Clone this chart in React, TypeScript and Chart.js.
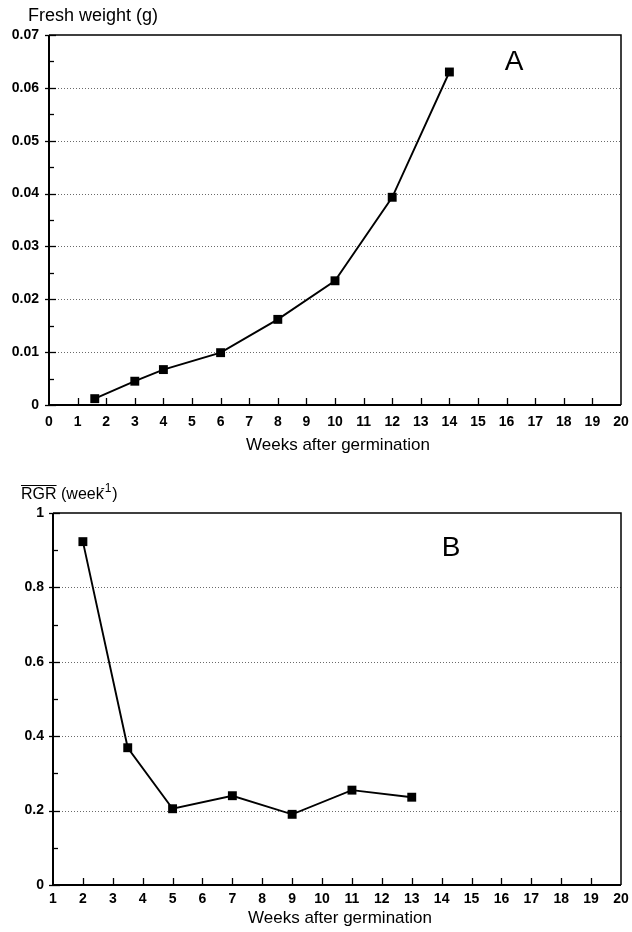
import React, { useEffect, useRef } from "react";
import { Chart, registerables } from "chart.js";

Chart.register(...registerables);

// ---------- Data ----------
const weeksA = [1.6, 3, 4, 6, 8, 10, 12, 14];
const freshWeight = [0.0012, 0.0045, 0.0067, 0.0099, 0.0162, 0.0235, 0.0393, 0.063];

const weeksB = [2, 3.5, 5, 7, 9, 11, 13];
const rgr = [0.923, 0.369, 0.205, 0.24, 0.19, 0.255, 0.236];

const xTickLabelsA = ["0", "1", "2", "3", "4", "5", "6", "7", "8", "9", "10", "11", "12", "13", "14", "15", "16", "17", "18", "19", "20"];
const xTickLabelsB = ["1", "2", "3", "4", "5", "6", "7", "8", "9", "10", "11", "12", "13", "14", "15", "16", "17", "18", "19", "20"];
const yTickValuesA = [0, 0.01, 0.02, 0.03, 0.04, 0.05, 0.06, 0.07];
const yTickLabelsA = ["0", "0.01", "0.02", "0.03", "0.04", "0.05", "0.06", "0.07"];
const yTickValuesB = [0, 0.2, 0.4, 0.6, 0.8, 1];
const yTickLabelsB = ["0", "0.2", "0.4", "0.6", "0.8", "1"];

const FONT = '"Liberation Sans", Arial, Helvetica, sans-serif';

function labelFor(values: number[], labels: string[], v: number): string {
  for (let i = 0; i < values.length; i++) {
    if (Math.abs(values[i] - v) < 1e-9) return labels[i];
  }
  return "";
}

type Panel = {
  xs: number[];
  ys: number[];
  xMin: number;
  xMax: number;
  xLabels: string[];
  yMax: number;
  yStep: number;
  yValues: number[];
  yLabels: string[];
  yWidth: number;
  xHeight: number;
  padTop: number;
  yPad: number;
  xPad: number;
  letter: string;
  letterX: number;
  letterY: number;
  titleY: number;
  drawYTitle: (ctx: CanvasRenderingContext2D) => void;
};

function framePlugin(p: Panel) {
  return {
    id: "frame" + p.letter,
    beforeDatasetsDraw(chart: any) {
      const { ctx, chartArea, scales } = chart;
      const { left, right } = chartArea;
      const y = scales.y;
      ctx.save();
      ctx.strokeStyle = "#6a6a6a";
      ctx.lineWidth = 1;
      ctx.setLineDash([1, 2]);
      for (const v of p.yValues) {
        if (v <= 0 || v >= p.yMax) continue;
        const py = Math.round(y.getPixelForValue(v)) + 0.5;
        ctx.beginPath();
        ctx.moveTo(left, py);
        ctx.lineTo(right, py);
        ctx.stroke();
      }
      ctx.restore();
    },
    afterDraw(chart: any) {
      const { ctx, chartArea, scales } = chart;
      const { left, right, top, bottom } = chartArea;
      const x = scales.x;
      const y = scales.y;
      ctx.save();
      ctx.setLineDash([]);
      ctx.strokeStyle = "#000";
      // frame
      ctx.lineWidth = 1.5;
      ctx.beginPath();
      ctx.moveTo(left, top);
      ctx.lineTo(right, top);
      ctx.lineTo(right, bottom);
      ctx.stroke();
      ctx.lineWidth = 2;
      ctx.beginPath();
      ctx.moveTo(left, top);
      ctx.lineTo(left, bottom);
      ctx.lineTo(right, bottom);
      ctx.stroke();
      // x inner tick marks
      ctx.lineWidth = 1.3;
      for (const t of x.ticks) {
        if (t.value <= p.xMin || t.value >= p.xMax) continue;
        const px = Math.round(x.getPixelForValue(t.value)) + 0.5;
        ctx.beginPath();
        ctx.moveTo(px, bottom);
        ctx.lineTo(px, bottom - 7);
        ctx.stroke();
      }
      // y tick marks
      for (const t of y.ticks) {
        const py = Math.round(y.getPixelForValue(t.value)) + 0.5;
        const major = labelFor(p.yValues, p.yLabels, t.value) !== "";
        ctx.beginPath();
        ctx.moveTo(major ? left - 4 : left, py);
        ctx.lineTo(major ? left + 7 : left + 5, py);
        ctx.stroke();
      }
      // texts
      ctx.fillStyle = "#000";
      ctx.textAlign = "center";
      ctx.textBaseline = "alphabetic";
      ctx.font = `17px ${FONT}`;
      ctx.fillText("Weeks after germination", (left + right) / 2 + 3, p.titleY);
      ctx.font = `28px ${FONT}`;
      ctx.fillText(p.letter, p.letterX, p.letterY);
      p.drawYTitle(ctx);
      ctx.restore();
    },
  };
}

function buildConfig(p: Panel): any {
  return {
    type: "line",
    data: {
      datasets: [
        {
          data: p.xs.map((xv, i) => ({ x: xv, y: p.ys[i] })),
          borderColor: "#000",
          backgroundColor: "#000",
          borderWidth: 1.9,
          pointStyle: "rect",
          pointRadius: 6.3,
          pointHoverRadius: 6.3,
          pointBorderWidth: 0,
          tension: 0,
          clip: false,
        },
      ],
    },
    options: {
      responsive: false,
      animation: false,
      events: [],
      layout: { padding: { top: p.padTop, right: 11, left: 0, bottom: 0 } },
      plugins: {
        legend: { display: false },
        tooltip: { enabled: false },
        title: { display: false },
      },
      scales: {
        x: {
          type: "linear",
          min: p.xMin,
          max: p.xMax,
          afterFit: (s: any) => {
            s.height = p.xHeight;
            s.paddingLeft = 0;
            s.paddingRight = 0;
          },
          grid: { display: false, drawTicks: false, tickLength: 0 },
          border: { display: false },
          ticks: {
            stepSize: 1,
            autoSkip: false,
            maxRotation: 0,
            color: "#000",
            padding: p.xPad,
            font: { family: FONT, size: 14, weight: "bold" },
            callback: (v: number) => p.xLabels[Math.round(v - p.xMin)] ?? "",
          },
        },
        y: {
          type: "linear",
          min: 0,
          max: p.yMax,
          afterFit: (s: any) => {
            s.width = p.yWidth;
            s.paddingTop = 0;
            s.paddingBottom = 0;
          },
          grid: { display: false, drawTicks: false, tickLength: 0 },
          border: { display: false },
          ticks: {
            stepSize: p.yStep,
            autoSkip: false,
            color: "#000",
            padding: p.yPad,
            font: { family: FONT, size: 14, weight: "bold" },
            callback: (v: number) => labelFor(p.yValues, p.yLabels, v),
          },
        },
      },
    },
    plugins: [framePlugin(p)],
  };
}

const panelA: Panel = {
  xs: weeksA,
  ys: freshWeight,
  xMin: 0,
  xMax: 20,
  xLabels: xTickLabelsA,
  yMax: 0.07,
  yStep: 0.005,
  yValues: yTickValuesA,
  yLabels: yTickLabelsA,
  yWidth: 49,
  xHeight: 61,
  padTop: 35,
  yPad: 10,
  xPad: 9,
  letter: "A",
  letterX: 514,
  letterY: 70,
  titleY: 450,
  drawYTitle: (ctx) => {
    ctx.textAlign = "left";
    ctx.font = `18px ${FONT}`;
    ctx.fillText("Fresh weight (g)", 28, 21);
  },
};

const panelB: Panel = {
  xs: weeksB,
  ys: rgr,
  xMin: 1,
  xMax: 20,
  xLabels: xTickLabelsB,
  yMax: 1,
  yStep: 0.1,
  yValues: yTickValuesB,
  yLabels: yTickLabelsB,
  yWidth: 53,
  xHeight: 47,
  padTop: 47,
  yPad: 9,
  xPad: 6,
  letter: "B",
  letterX: 451,
  letterY: 90,
  titleY: 457,
  drawYTitle: (ctx) => {
    ctx.textAlign = "left";
    ctx.font = `16px ${FONT}`;
    const x0 = 21;
    const base = 33;
    const rgrW = ctx.measureText("RGR").width;
    ctx.fillText("RGR", x0, base);
    ctx.lineWidth = 1.2;
    ctx.beginPath();
    ctx.moveTo(x0, base - 13.5);
    ctx.lineTo(x0 + rgrW, base - 13.5);
    ctx.stroke();
    let cx = x0 + rgrW;
    const part = " (week";
    ctx.fillText(part, cx, base);
    cx += ctx.measureText(part).width - 3;
    ctx.font = `12px ${FONT}`;
    ctx.fillText("-1", cx, base - 7);
    cx += ctx.measureText("-1").width + 1;
    ctx.font = `16px ${FONT}`;
    ctx.fillText(")", cx, base);
  },
};

export default function App() {
  const refA = useRef<HTMLCanvasElement | null>(null);
  const refB = useRef<HTMLCanvasElement | null>(null);

  useEffect(() => {
    const charts: Chart[] = [];
    if (refA.current) charts.push(new Chart(refA.current, buildConfig(panelA)));
    if (refB.current) charts.push(new Chart(refB.current, buildConfig(panelB)));
    return () => {
      charts.forEach((c) => c.destroy());
    };
  }, []);

  return (
    <div style={{ position: "absolute", left: 0, top: 0, width: 632, height: 932, background: "#fff" }}>
      <canvas
        ref={refA}
        width={632}
        height={466}
        style={{ position: "absolute", left: 0, top: 0, width: 632, height: 466 }}
      />
      <canvas
        ref={refB}
        width={632}
        height={466}
        style={{ position: "absolute", left: 0, top: 466, width: 632, height: 466 }}
      />
    </div>
  );
}
